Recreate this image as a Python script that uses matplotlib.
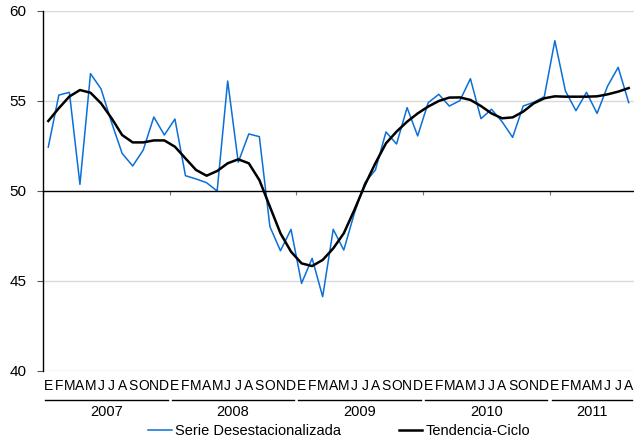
import numpy as np
import matplotlib
matplotlib.use("Agg")
import matplotlib.pyplot as plt
from matplotlib.lines import Line2D

plt.rcParams['font.family'] = ['Liberation Sans', 'DejaVu Sans']

# monthly data, Jan 2007 .. Aug 2011
meses = ["E", "F", "M", "A", "M", "J", "J", "A", "S", "O", "N", "D"]
anios = ["2007", "2008", "2009", "2010", "2011"]
n_meses = 56

serie = [52.44, 55.33, 55.48, 50.37, 56.52, 55.67, 53.8, 52.09, 51.39, 52.28, 54.11, 53.11,
         54.0, 50.85, 50.67, 50.46, 50.0, 56.11, 51.6, 53.17, 53.02, 48.02, 46.68, 47.87,
         44.87, 46.26, 44.13, 47.87, 46.72, 48.76, 50.46, 51.17, 53.28, 52.61, 54.63, 53.06,
         54.91, 55.37, 54.72, 55.02, 56.24, 54.02, 54.54, 53.85, 52.98, 54.72, 54.93, 55.24,
         58.35, 55.56, 54.46, 55.48, 54.31, 55.83, 56.87, 54.91]

tendencia = [53.89, 54.6, 55.25, 55.61, 55.46, 54.87, 54.04, 53.11, 52.7, 52.7, 52.81, 52.81,
             52.46, 51.81, 51.17, 50.85, 51.11, 51.54, 51.76, 51.54, 50.61, 49.13, 47.65, 46.63,
             45.98, 45.83, 46.17, 46.81, 47.65, 48.94, 50.33, 51.55, 52.65, 53.3, 53.85, 54.31,
             54.69, 55.0, 55.19, 55.2, 55.06, 54.72, 54.31, 54.04, 54.09, 54.41, 54.87, 55.15,
             55.26, 55.24, 55.24, 55.24, 55.26, 55.37, 55.52, 55.72]

x = np.arange(n_meses)

fig = plt.figure(figsize=(6.34, 4.42), dpi=100)
ax = fig.add_axes([43/634, 1 - 371/442, 1 - 43/634, 360/442])

for v in [40, 45, 55, 60]:
    ax.axhline(v, color='#d9d9d9', lw=1.0, zorder=0)

ax.plot(x, serie, color='#0a6fd6', lw=1.1, zorder=2)
ax.plot(x, tendencia, color='black', lw=1.8, zorder=3)

ax.set_xlim(-0.5, n_meses - 0.5)
ax.set_ylim(40, 60)
ax.set_yticks([40, 45, 50, 55, 60])
ax.tick_params(axis='y', labelsize=11, length=4, color='#555555', pad=8)

ax.spines['top'].set_visible(False)
ax.spines['right'].set_visible(False)
ax.spines['bottom'].set_position(('data', 50))
ax.spines['bottom'].set_linewidth(1.0)
ax.spines['left'].set_linewidth(1.0)
ax.set_xticks([-0.5, 11.5, 23.5, 35.5, 47.5])
ax.set_xticklabels([])
ax.tick_params(axis='x', length=3, color='#777777', direction='out')

# month letters under the plot
trans = ax.get_xaxis_transform()
for i in range(n_meses):
    ax.text(x[i], -0.042, meses[i % 12], transform=trans, ha='center', va='center',
            fontsize=10, clip_on=False)

# year lines and labels
for k, a in enumerate(anios):
    x0 = -0.5 + 12 * k
    x1 = min(x0 + 12, n_meses - 0.5)
    ax.add_line(Line2D([x0 + 0.2, x1 - 0.2], [-0.08, -0.08], transform=trans,
                       color='black', lw=1.0, clip_on=False))
    ax.text((x0 + x1) / 2, -0.114, a, transform=trans, ha='center', va='center',
            fontsize=10.5, clip_on=False)

h1 = Line2D([], [], color='#0a6fd6', lw=1.1)
h2 = Line2D([], [], color='black', lw=1.8)
fig.legend([h1, h2], ["Serie Desestacionalizada", "Tendencia-Ciclo"], ncol=2,
           loc='center', bbox_to_anchor=(0.535, 1 - 431/442), frameon=False,
           fontsize=10.5, handlelength=1.6, handletextpad=0.2, columnspacing=4.0)

fig.savefig("out.png", dpi=100)
